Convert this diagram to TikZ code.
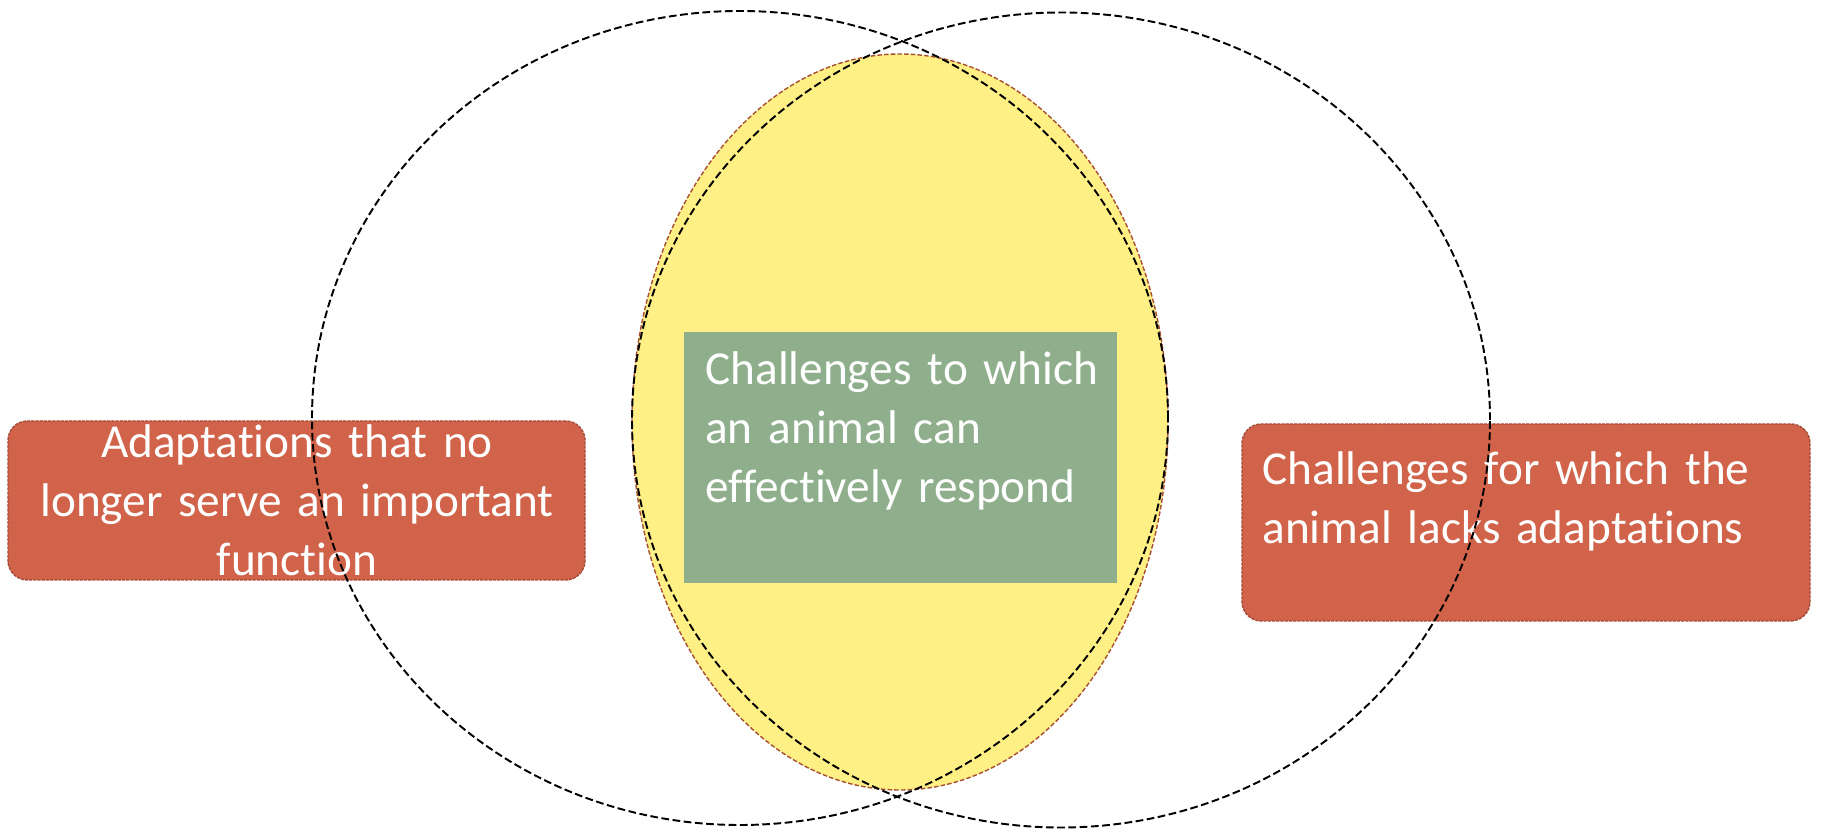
\documentclass[tikz,border=0pt]{standalone}
\usepackage{fontspec}
\setmainfont{Carlito}[Ligatures=NoCommon]
\usetikzlibrary{shapes.geometric}

\definecolor{brick}{RGB}{209,99,74}
\definecolor{brickline}{RGB}{165,74,56}
\definecolor{butter}{RGB}{255,240,133}
\definecolor{eggline}{RGB}{168,80,50}
\definecolor{sage}{RGB}{143,175,140}

\def\pxu{0.02cm}

\tikzset{
  ring/.style={ellipse, draw=black, line width=1.1pt, dash pattern=on 4.4pt off 2pt, inner sep=0pt},
  egg/.style={ellipse, fill=butter, draw=eggline, line width=0.8pt, dash pattern=on 2.6pt off 1.2pt, inner sep=0pt},
  core/.style={rectangle, fill=sage, inner sep=0pt},
  redbox/.style={rectangle, rounded corners=11pt, fill=brick, draw=brickline, line width=0.8pt, dash pattern=on 1.8pt off 0.6pt, inner sep=0pt},
  words/.style={text=white, inner sep=0pt, font=\fontsize{26.9}{33.3}\selectfont}
}

\begin{document}
\begin{tikzpicture}[x=0.02cm, y=-0.02cm]
\useasboundingbox (0,0) rectangle (1822,830);

% middle part
\node[egg, minimum width=536*\pxu, minimum height=736*\pxu] (egg) at (900,422) {};
\node[core, minimum width=433*\pxu, minimum height=251*\pxu] (core) at (900.5,457.5) {};
\node[words, anchor=base west, text width=8.4cm, align=left] (coretext) at (705,385)
  {Challenges to which\\an animal can\\effectively respond};

% side boxes
\node[redbox, minimum width=577*\pxu, minimum height=159*\pxu] (lbox) at (296.5,500.5) {};
\node[redbox, minimum width=568*\pxu, minimum height=197*\pxu] (rbox) at (1526,522.5) {};
\node[words, anchor=base, text width=11.2cm, align=center] (ltext) at (297,458)
  {Adaptations that no\\longer serve an important\\function};
\node[words, anchor=base west, text width=10.6cm, align=left] (rtext) at (1262,485)
  {Challenges for which the\\animal lacks adaptations};

% the two rings
\node[ring, minimum width=856*\pxu, minimum height=814*\pxu] (lring) at (740,418) {};
\node[ring, minimum width=858*\pxu, minimum height=815*\pxu] (rring) at (1061,420) {};
\end{tikzpicture}
\end{document}
